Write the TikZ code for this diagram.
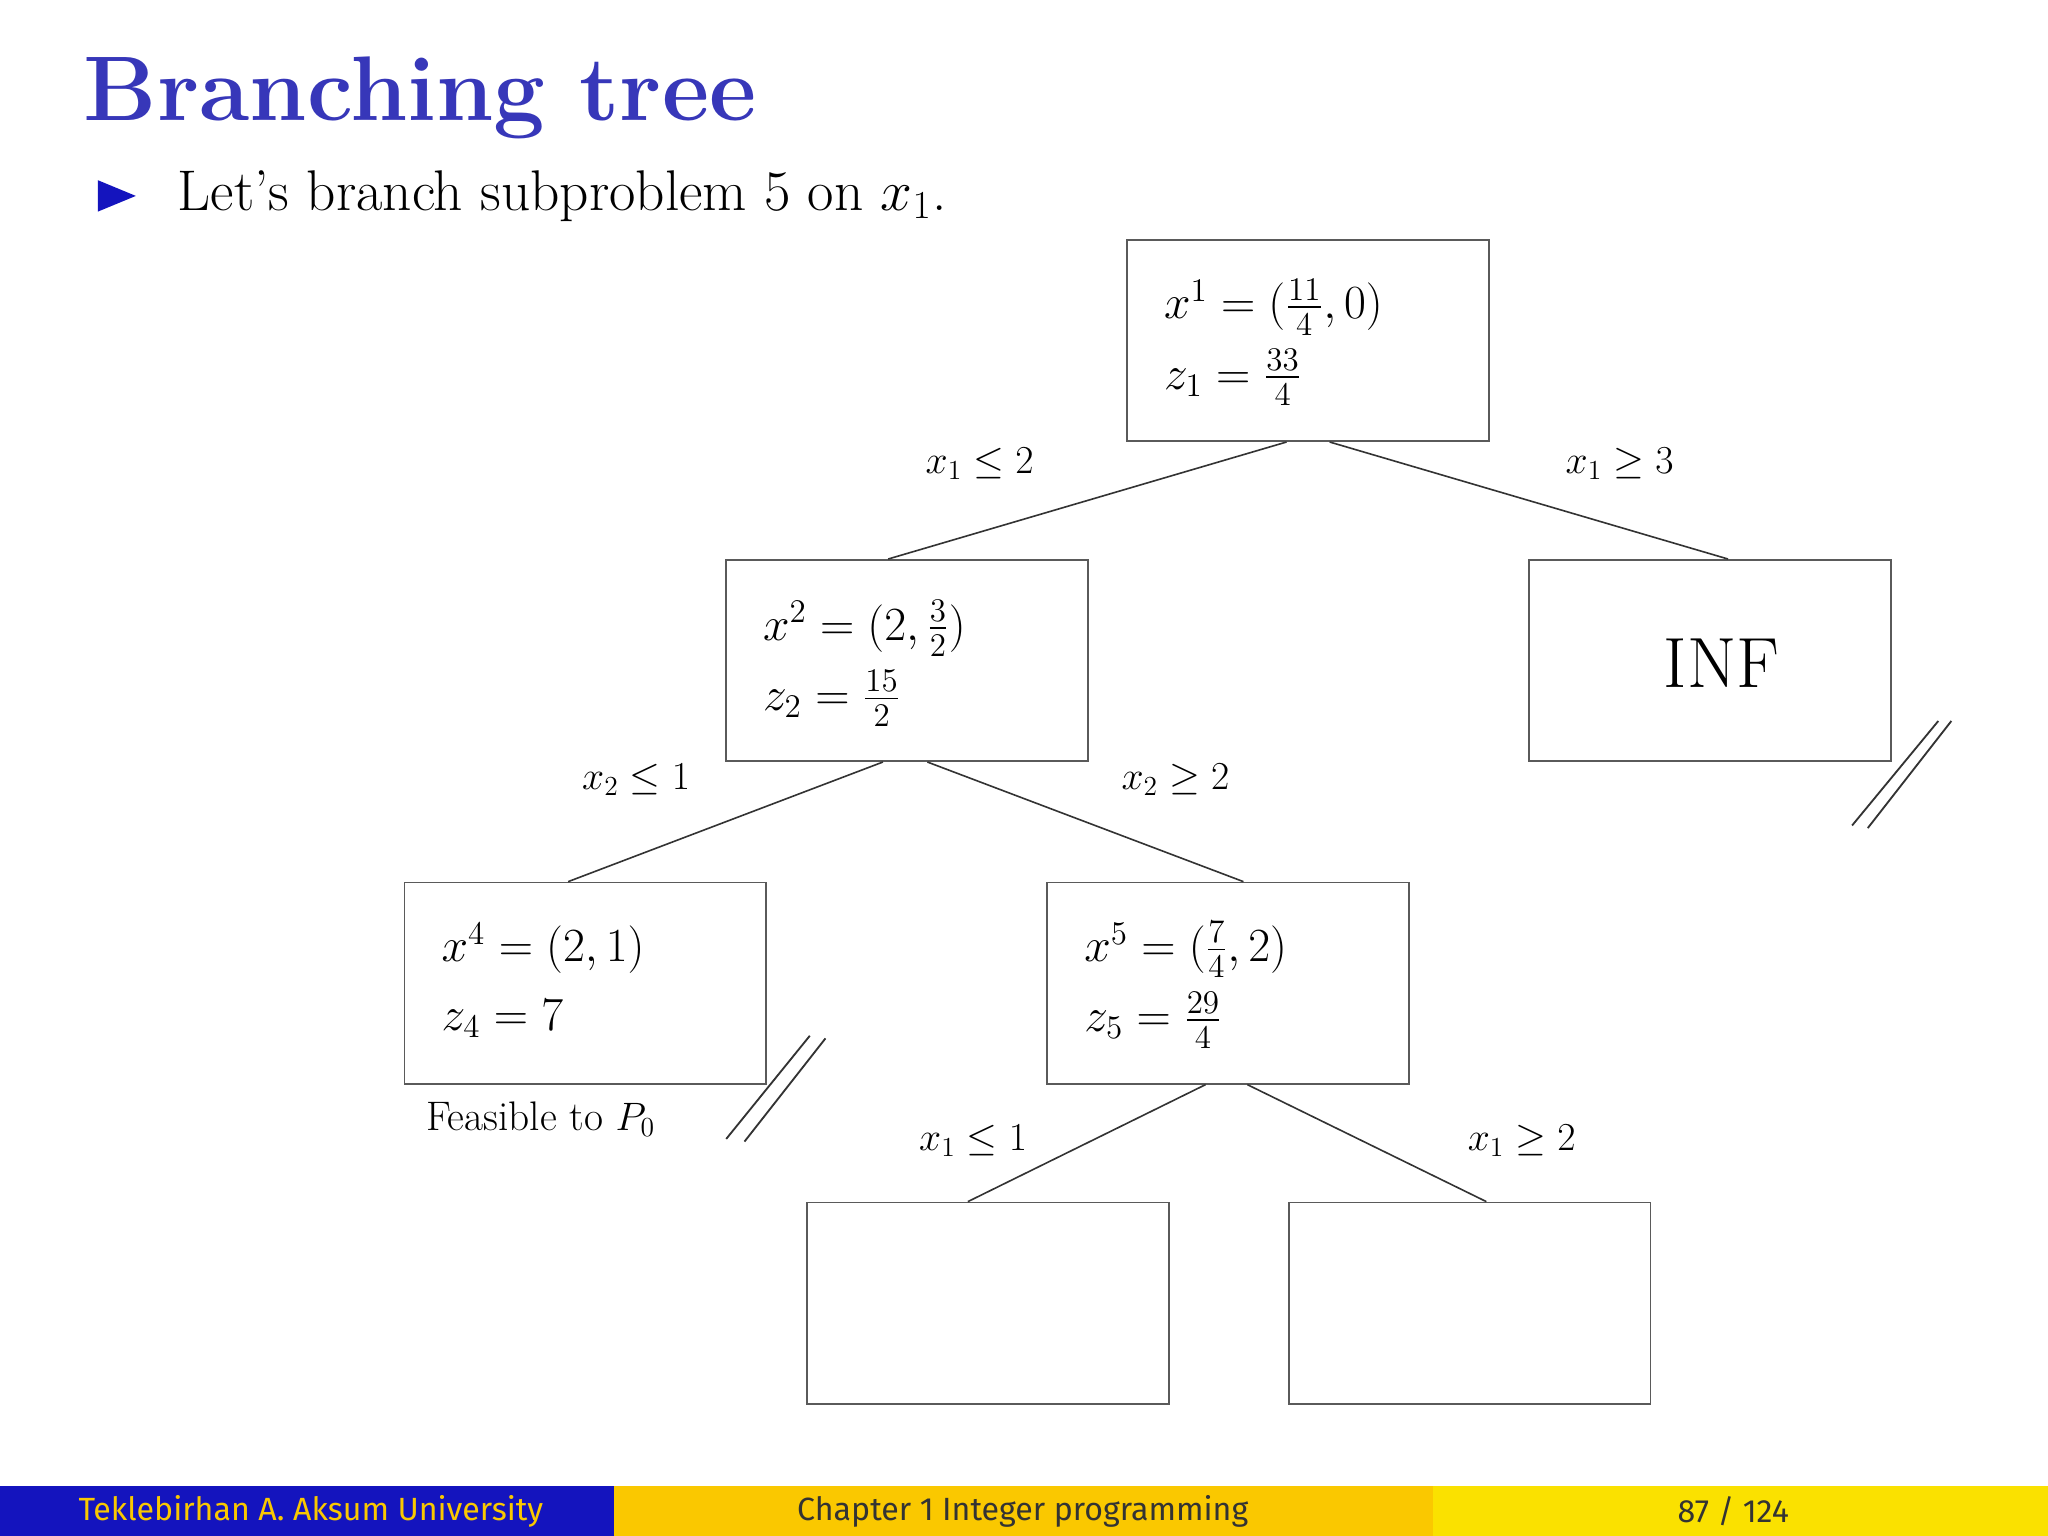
\documentclass[tikz,border=0pt]{standalone}
\usepackage{amsmath,amssymb}
\usepackage{fontspec}
\newfontfamily\footfont{Fira Sans}
\usetikzlibrary{calc}
\definecolor{ttl}{RGB}{55,55,185}
\definecolor{fblue}{RGB}{20,20,190}
\definecolor{fgold}{RGB}{250,200,0}
\definecolor{fyel}{RGB}{250,225,0}
\definecolor{edgegray}{RGB}{90,90,90}
\tikzset{
  bx/.style={draw=edgegray,line width=0.8pt,minimum width=277*0.02cm,minimum height=154*0.02cm,inner sep=0pt},
  ed/.style={draw=black!80,line width=0.7pt},
  lbl/.style={font=\fontsize{18}{22}\selectfont},
  sl/.style={draw=black!80,line width=0.8pt},
}
\newcommand{\bt}[2]{\fontsize{20}{24}\selectfont$\begin{array}{@{}l@{}}#1\\[6pt]#2\end{array}$}
\begin{document}
\begin{tikzpicture}[x=0.02cm,y=-0.02cm]
\useasboundingbox (0,0) rectangle (1568,1176);
\fill[white] (0,0) rectangle (1568,1176);
% title
\node[anchor=west,text=ttl,font=\fontsize{40}{46}\selectfont\bfseries] (title) at (58,75) {Branching tree};
\node[anchor=west,font=\fontsize{25}{30}\selectfont] (bul) at (130,150) {Let's branch subproblem 5 on $x_1$.};
\fill[fblue] (75,138) -- (104,150) -- (75,162) -- cycle;
% boxes
\node[bx,anchor=north west] (b1) at (862,183) {};
\node[bx,anchor=north west] (b2) at (555,428) {};
\node[bx,anchor=north west] (b3) at (1170,428) {};
\node[bx,anchor=north west] (b4) at (309,675) {};
\node[bx,anchor=north west] (b5) at (801,675) {};
\node[bx,anchor=north west] (b6) at (617,920) {};
\node[bx,anchor=north west] (b7) at (986,920) {};
% box texts
\node[anchor=west] (t1) at (885,262) {\bt{x^1 = (\tfrac{11}{4},0)}{z_1 = \tfrac{33}{4}}};
\node[anchor=west] (t2) at (578,508) {\bt{x^2 = (2,\tfrac{3}{2})}{z_2 = \tfrac{15}{2}}};
\node[anchor=west] (t4) at (332,754) {\bt{x^4 = (2,1)}{z_4 = 7}};
\node[anchor=west] (t5) at (824,754) {\bt{x^5 = (\tfrac{7}{4},2)}{z_5 = \tfrac{29}{4}}};
\node[font=\fontsize{31}{36}\selectfont] (inf) at (1318,508) {INF};
% edges
\draw[ed] ($(b1.south west)+(123,0)$) -- ($(b2.north west)+(125,0)$);
\draw[ed] ($(b1.south west)+(156,0)$) -- ($(b3.north west)+(153,0)$);
\draw[ed] ($(b2.south west)+(121,0)$) -- ($(b4.north west)+(126,0)$);
\draw[ed] ($(b2.south west)+(155,0)$) -- ($(b5.north west)+(151,0)$);
\draw[ed] ($(b5.south west)+(122,0)$) -- ($(b6.north west)+(124,0)$);
\draw[ed] ($(b5.south west)+(154,0)$) -- ($(b7.north west)+(152,0)$);
% labels
\node[lbl] (l1) at (750,355) {$x_1 \le 2$};
\node[lbl] (l2) at (1240,355) {$x_1 \ge 3$};
\node[lbl] (l3) at (487,597) {$x_2 \le 1$};
\node[lbl] (l4) at (900,597) {$x_2 \ge 2$};
\node[lbl] (l5) at (745,873) {$x_1 \le 1$};
\node[lbl] (l6) at (1165,873) {$x_1 \ge 2$};
\node[lbl] (fe) at (414,857) {Feasible to $P_0$};
% slashes
\draw[sl] (1418,632) -- (1484,552);
\draw[sl] (1430,634) -- (1494,552);
\draw[sl] (556,872) -- (620,793);
\draw[sl] (570,874) -- (632,795);
% footer
\fill[fblue] (0,1138) rectangle (470,1176);
\fill[fgold] (470,1138) rectangle (1097,1176);
\fill[fyel] (1097,1138) rectangle (1568,1176);
\node[font=\footfont\fontsize{14}{16}\selectfont,text=fgold] (f1) at (238,1157) {Teklebirhan A. Aksum University};
\node[font=\footfont\fontsize{14}{16}\selectfont,text=black!80] (f2) at (783,1157) {Chapter 1 Integer programming};
\node[font=\footfont\fontsize{14}{16}\selectfont,text=black!80] (f3) at (1327,1157) {87 / 124};
\end{tikzpicture}
\end{document}
